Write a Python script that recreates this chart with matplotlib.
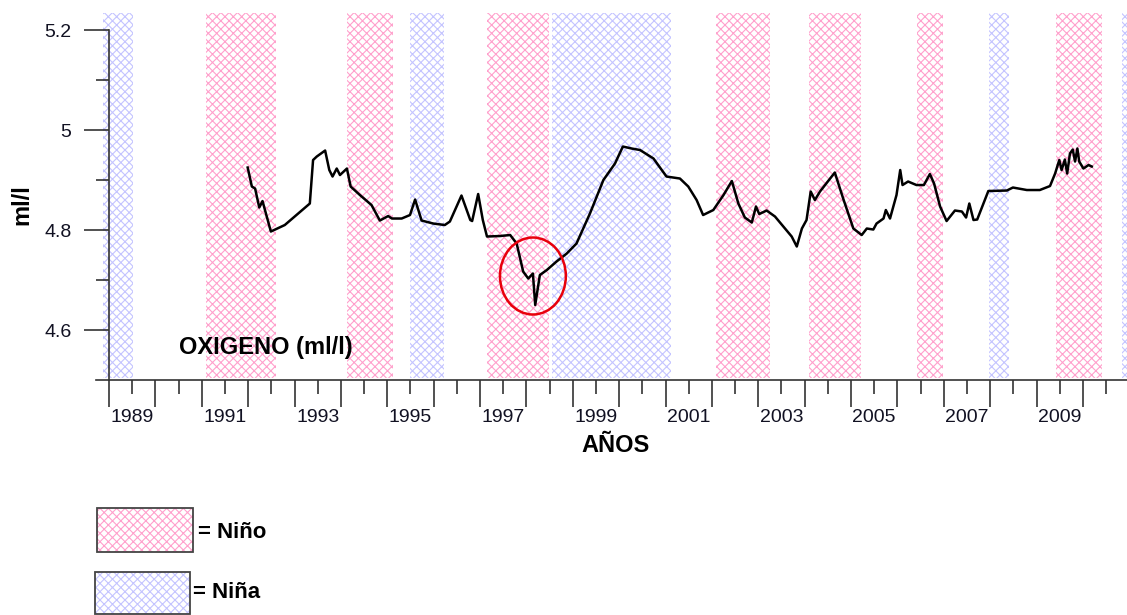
import matplotlib
matplotlib.use('Agg')
import matplotlib.pyplot as plt
from matplotlib.patches import Ellipse, Rectangle

plt.rcParams['font.family'] = ['Liberation Sans', 'DejaVu Sans']
plt.rcParams['hatch.linewidth'] = 0.8

# oxygen series (year, ml/l)
years = [1991.99, 1992.08, 1992.15, 1992.24, 1992.31, 1992.49, 1992.79, 1993.33, 1993.40, 1993.48,
         1993.66, 1993.75, 1993.82, 1993.91, 1993.98, 1994.13, 1994.21, 1994.41, 1994.66, 1994.84,
         1995.02, 1995.10, 1995.31, 1995.49, 1995.60, 1995.74, 1995.99, 1996.24, 1996.35, 1996.60,
         1996.79, 1996.83, 1996.96, 1997.06, 1997.15, 1997.43, 1997.65, 1997.79, 1997.93, 1998.04,
         1998.14, 1998.19, 1998.29, 1998.44, 1998.65, 1998.87, 1999.08, 1999.37, 1999.66, 1999.91,
         2000.08, 2000.27, 2000.45, 2000.74, 2001.02, 2001.31, 2001.49, 2001.67, 2001.81, 2002.03,
         2002.25, 2002.43, 2002.57, 2002.71, 2002.86, 2002.95, 2003.02, 2003.18, 2003.36, 2003.72,
         2003.83, 2003.94, 2004.04, 2004.13, 2004.22, 2004.33, 2004.65, 2004.83, 2005.05, 2005.23,
         2005.34, 2005.48, 2005.55, 2005.70, 2005.75, 2005.84, 2005.98, 2006.06, 2006.11, 2006.23,
         2006.41, 2006.57, 2006.70, 2006.79, 2006.92, 2007.06, 2007.24, 2007.39, 2007.48, 2007.55,
         2007.64, 2007.72, 2007.96, 2008.36, 2008.49, 2008.79, 2009.07, 2009.29, 2009.40, 2009.49,
         2009.54, 2009.61, 2009.66, 2009.72, 2009.78, 2009.83, 2009.88, 2009.92, 2010.01, 2010.12,
         2010.19]
oxygen = [4.925, 4.887, 4.883, 4.845, 4.858, 4.797, 4.810, 4.853, 4.940, 4.947,
          4.959, 4.920, 4.907, 4.923, 4.910, 4.923, 4.887, 4.870, 4.850, 4.819,
          4.828, 4.823, 4.823, 4.830, 4.861, 4.819, 4.813, 4.810, 4.817, 4.869,
          4.820, 4.818, 4.872, 4.820, 4.787, 4.788, 4.790, 4.773, 4.717, 4.703,
          4.713, 4.650, 4.710, 4.720, 4.737, 4.753, 4.773, 4.833, 4.900, 4.933,
          4.967, 4.963, 4.960, 4.943, 4.907, 4.903, 4.887, 4.860, 4.830, 4.840,
          4.870, 4.898, 4.853, 4.825, 4.815, 4.847, 4.832, 4.839, 4.827, 4.787,
          4.767, 4.803, 4.820, 4.877, 4.860, 4.877, 4.915, 4.863, 4.803, 4.790,
          4.803, 4.801, 4.813, 4.823, 4.840, 4.823, 4.870, 4.920, 4.890, 4.897,
          4.890, 4.890, 4.912, 4.893, 4.847, 4.818, 4.839, 4.837, 4.825, 4.853,
          4.820, 4.821, 4.878, 4.879, 4.885, 4.880, 4.880, 4.888, 4.913, 4.940,
          4.920, 4.941, 4.913, 4.953, 4.961, 4.937, 4.963, 4.937, 4.923, 4.930,
          4.927]

# enso periods (start, end)
nino_start = [1991.09, 1994.13, 1997.15, 2002.09, 2004.09, 2006.42, 2009.42]
nino_end = [1992.60, 1995.12, 1998.49, 2003.25, 2005.21, 2006.98, 2010.41]
nina_start = [1988.87, 1995.49, 1998.55, 2007.97, 2010.84]
nina_end = [1989.52, 1996.22, 2001.12, 2008.40, 2011.30]

year_labels = [str(y) for y in range(1989, 2010, 2)]

pink = '#ffa0cc'
blue = '#c4c4ff'
dark = '#333333'

fig = plt.figure(figsize=(11.27, 6.15), dpi=100)
ax = fig.add_axes([0.0852, 0.3821, 0.9148, 0.5967])

# shaded enso bands
for a, b in zip(nino_start, nino_end):
    ax.axvspan(a, b, ymin=0.005, facecolor='none', edgecolor=pink, lw=0, hatch='xxxx', zorder=1)
for a, b in zip(nina_start, nina_end):
    ax.axvspan(a, b, ymin=0.005, facecolor='none', edgecolor=blue, lw=0, hatch='xxxx', zorder=1)

ax.plot(years, oxygen, color='black', lw=1.8, zorder=3)

# circle around 1998 minimum
ax.add_patch(Ellipse((1998.14, 4.708), 1.42, 0.154, facecolor='none',
                     edgecolor='#e8000b', lw=1.8, zorder=4))

ax.set_xlim(1988.72, 2010.95)
ax.set_ylim(4.5, 5.234)

# axes look
ax.spines['top'].set_visible(False)
ax.spines['right'].set_visible(False)
ax.spines['left'].set_position(('data', 1989))
ax.spines['left'].set_bounds(4.5, 5.2)
for s in ['left', 'bottom']:
    ax.spines[s].set_color(dark)
    ax.spines[s].set_linewidth(1.2)

ax.set_yticks([4.6, 4.8, 5.0, 5.2])
ax.set_yticklabels(['4.6', '4.8', '5', '5.2'])
ax.set_yticks([4.7, 4.9, 5.1], minor=True)
ax.tick_params(axis='y', which='major', length=18, width=1.2, color=dark,
               labelsize=14, pad=9, labelcolor='#111122')
ax.tick_params(axis='y', which='minor', length=9.4, width=1.2, color=dark)

ax.set_xticks(range(1989, 2011))
ax.set_xticklabels([])
half_years = [y + 0.5 for y in range(1989, 2011)]
ax.set_xticks(half_years, minor=True)
ax.set_xticklabels([str(int(y)) if str(int(y)) in year_labels else '' for y in half_years],
                   minor=True)
ax.tick_params(axis='x', which='major', length=19.4, width=1.2, color=dark)
ax.tick_params(axis='x', which='minor', length=10, width=1.2, color=dark,
               labelsize=14, pad=11, labelcolor='#111122')

# titles
fig.text(22 / 1127, 1 - 205 / 615, 'ml/l', rotation=90, fontsize=17, fontweight='bold',
         ha='center', va='center')
fig.text(615.7 / 1127, 1 - 445 / 615, 'AÑOS', fontsize=17, fontweight='bold',
         ha='center', va='center')
fig.text(179 / 1127, 1 - 348 / 615, 'OXIGENO (ml/l)', fontsize=17, fontweight='bold',
         ha='left', va='center')

# legend boxes
boxes = [(97, 508, 96, 44, pink, '= Niño', 198, 532),
         (95, 572, 95, 42, blue, '= Niña', 193, 592)]
for x, y, w, h, c, label, tx, ty in boxes:
    r = Rectangle((x / 1127, 1 - (y + h) / 615), w / 1127, h / 615, transform=fig.transFigure,
                  facecolor='white', edgecolor=c, lw=0, hatch='xxxx')
    fig.patches.append(r)
    r2 = Rectangle((x / 1127, 1 - (y + h) / 615), w / 1127, h / 615, transform=fig.transFigure,
                   facecolor='none', edgecolor='#444444', lw=1.3)
    fig.patches.append(r2)
    fig.text(tx / 1127, 1 - ty / 615, label, fontsize=16, fontweight='bold',
             ha='left', va='center')

plt.savefig('out.png', dpi=100)
plt.close()
